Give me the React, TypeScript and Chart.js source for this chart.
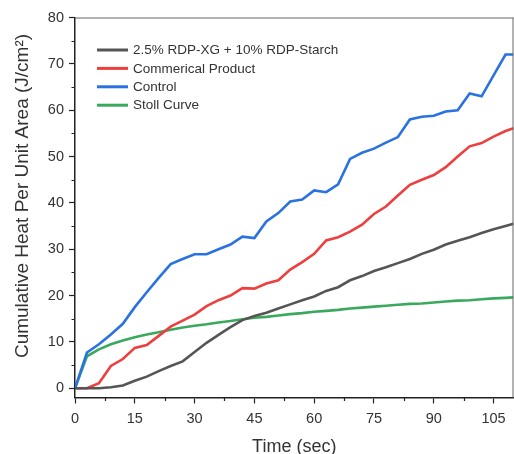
import React, { useEffect, useRef } from 'react';
import { Chart, registerables } from 'chart.js';

Chart.register(...registerables);

// ---- data ----
const times = [0, 3, 6, 9, 12, 15, 18, 21, 24, 27, 30, 33, 36, 39, 42, 45, 48, 51, 54, 57, 60, 63, 66, 69, 72, 75, 78, 81, 84, 87, 90, 93, 96, 99, 102, 105, 108, 110];

const blendValues = [0, 0, 0, 0.2, 0.6, 1.6, 2.5, 3.7, 4.8, 5.8, 7.8, 9.8, 11.5, 13.2, 14.7, 15.6, 16.3, 17.2, 18.1, 19.0, 19.8, 21.0, 21.8, 23.3, 24.2, 25.3, 26.1, 27.0, 27.9, 29.0, 29.9, 31.0, 31.8, 32.6, 33.5, 34.3, 35.0, 35.5];

const commercialValues = [0, 0, 1.1, 4.8, 6.3, 8.7, 9.3, 11.3, 13.3, 14.6, 15.9, 17.7, 19.0, 20.0, 21.6, 21.5, 22.6, 23.3, 25.6, 27.2, 29.0, 31.9, 32.6, 33.8, 35.3, 37.6, 39.2, 41.6, 43.9, 45.0, 46.0, 47.7, 50.0, 52.2, 52.9, 54.3, 55.5, 56.1];

const controlValues = [0, 7.7, 9.5, 11.6, 13.9, 17.5, 20.7, 23.8, 26.8, 27.9, 28.9, 28.9, 30.0, 31.0, 32.7, 32.4, 36.0, 37.8, 40.3, 40.7, 42.7, 42.3, 44.0, 49.5, 50.8, 51.7, 53.0, 54.2, 58.0, 58.6, 58.8, 59.7, 60.0, 63.6, 63.0, 67.5, 72.0, 72.0];

const stollValues = [0, 6.9, 8.4, 9.5, 10.3, 11.0, 11.6, 12.1, 12.6, 13.1, 13.5, 13.8, 14.2, 14.5, 14.9, 15.2, 15.4, 15.7, 16.0, 16.2, 16.5, 16.7, 16.9, 17.2, 17.4, 17.6, 17.8, 18.0, 18.2, 18.3, 18.5, 18.7, 18.9, 19.0, 19.2, 19.4, 19.5, 19.6];

const seriesNames = ['2.5% RDP-XG + 10% RDP-Starch', 'Commerical Product', 'Control', 'Stoll Curve'];
const seriesColors = ['#555555', '#ee3f3f', '#2a72e0', '#3aa95d'];

const xTicks = [0, 15, 30, 45, 60, 75, 90, 105];
const xMinorTicks = [7.5, 22.5, 37.5, 52.5, 67.5, 82.5, 97.5];
const yTicks = [0, 10, 20, 30, 40, 50, 60, 70, 80];
const yMinorTicks = [5, 15, 25, 35, 45, 55, 65, 75];

const xTitle = 'Time (sec)';
const yTitle = 'Cumulative Heat Per Unit Area (J/cm²)';

const FONT = "'Liberation Sans', Arial, Helvetica, sans-serif";

export default function App() {
  const canvasRef = useRef<HTMLCanvasElement | null>(null);

  useEffect(() => {
    const canvas = canvasRef.current;
    if (!canvas) return;

    const seriesData = [blendValues, commercialValues, controlValues, stollValues];

    const extrasPlugin = {
      id: 'extras',
      afterDraw(chart: any) {
        const { ctx, chartArea } = chart;
        const xs = chart.scales.x;
        const ys = chart.scales.y;
        ctx.save();
        // frame top & right
        ctx.strokeStyle = '#666666';
        ctx.lineWidth = 1;
        ctx.beginPath();
        ctx.moveTo(chartArea.left, chartArea.top + 0.5);
        ctx.lineTo(chartArea.right, chartArea.top + 0.5);
        ctx.moveTo(chartArea.right - 0.5, chartArea.top);
        ctx.lineTo(chartArea.right - 0.5, chartArea.bottom);
        ctx.stroke();
        // minor ticks
        ctx.strokeStyle = '#222222';
        ctx.lineWidth = 1.2;
        ctx.beginPath();
        for (const v of xMinorTicks) {
          const px = Math.round(xs.getPixelForValue(v)) + 0.5;
          ctx.moveTo(px, chartArea.bottom);
          ctx.lineTo(px, chartArea.bottom + 3.5);
        }
        for (const v of yMinorTicks) {
          const py = Math.round(ys.getPixelForValue(v)) + 0.5;
          ctx.moveTo(chartArea.left, py);
          ctx.lineTo(chartArea.left - 3.5, py);
        }
        ctx.stroke();
        // y title
        ctx.fillStyle = '#333333';
        ctx.font = `19px ${FONT}`;
        ctx.textAlign = 'center';
        ctx.textBaseline = 'middle';
        ctx.translate(23, 196);
        ctx.rotate(-Math.PI / 2);
        ctx.fillText(yTitle, 0, 0);
        ctx.restore();

        // legend
        ctx.save();
        ctx.font = `13.5px ${FONT}`;
        ctx.textAlign = 'left';
        ctx.textBaseline = 'middle';
        const lx = chartArea.left + 22;
        const ly = chartArea.top + 32.5;
        const gap = 18.4;
        seriesNames.forEach((name, i) => {
          const y = ly + i * gap;
          ctx.strokeStyle = seriesColors[i];
          ctx.lineWidth = 3;
          ctx.beginPath();
          ctx.moveTo(lx, y);
          ctx.lineTo(lx + 31, y);
          ctx.stroke();
          ctx.fillStyle = '#333333';
          ctx.fillText(name, lx + 36, y + 0.5);
        });
        ctx.restore();
      },
    };

    const chart = new Chart(canvas, {
      type: 'line',
      data: {
        labels: times,
        datasets: seriesNames.map((name, i) => ({
          label: name,
          data: times.map((t, j) => ({ x: t, y: seriesData[i][j] })),
          borderColor: seriesColors[i],
          backgroundColor: seriesColors[i],
          borderWidth: 2.6,
          pointRadius: 0,
          tension: 0,
          fill: false,
        })),
      },
      options: {
        responsive: false,
        animation: false,
        devicePixelRatio: 1,
        layout: { padding: { top: 17.5, right: 0.5, left: 0, bottom: 0 } },
        plugins: {
          legend: { display: false },
          tooltip: { enabled: false },
        },
        scales: {
          x: {
            type: 'linear',
            min: 0,
            max: 110,
            afterBuildTicks: (s: any) => {
              s.ticks = xTicks.map((v) => ({ value: v }));
            },
            afterFit: (s: any) => {
              s.height = 56.5;
            },
            grid: {
              display: true,
              drawOnChartArea: false,
              drawTicks: true,
              tickLength: 6,
              tickColor: '#222222',
              tickWidth: 1.2,
            },
            border: { display: true, color: '#222222', width: 1.5 },
            ticks: {
              color: '#333333',
              font: { family: FONT, size: 14.5 },
              padding: 7,
              maxRotation: 0,
              autoSkip: false,
            },
            title: {
              display: true,
              text: xTitle,
              color: '#333333',
              font: { family: FONT, size: 18 },
              padding: { top: 0, bottom: -3.5 },
            },
          },
          y: {
            type: 'linear',
            min: -2,
            max: 80,
            afterBuildTicks: (s: any) => {
              s.ticks = yTicks.map((v) => ({ value: v }));
            },
            afterFit: (s: any) => {
              s.width = 75;
            },
            grid: {
              display: true,
              drawOnChartArea: false,
              drawTicks: true,
              tickLength: 6,
              tickColor: '#222222',
              tickWidth: 1.2,
            },
            border: { display: true, color: '#222222', width: 1.5 },
            ticks: {
              color: '#333333',
              font: { family: FONT, size: 14.5 },
              padding: 5,
              autoSkip: false,
            },
          },
        },
      },
      plugins: [extrasPlugin],
    } as any);

    return () => {
      chart.destroy();
    };
  }, []);

  return (
    <div style={{ position: 'fixed', left: 0, top: 0, width: 514, height: 454, background: '#ffffff' }}>
      <canvas ref={canvasRef} width={514} height={454} style={{ width: 514, height: 454, display: 'block' }} />
    </div>
  );
}
